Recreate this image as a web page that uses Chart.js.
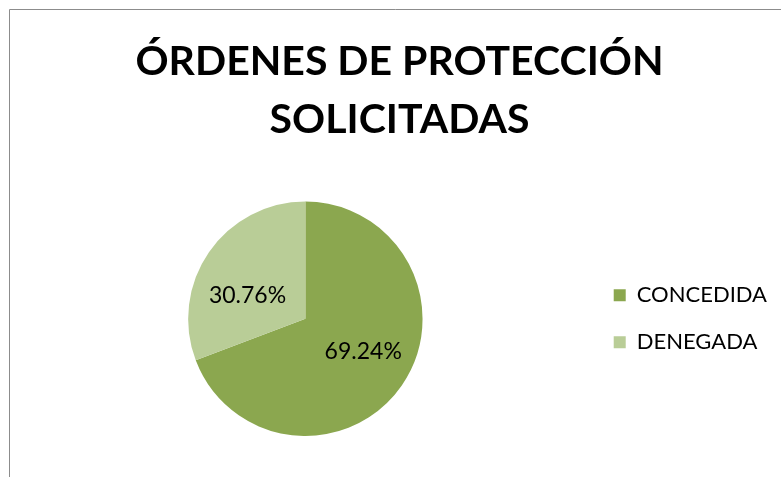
<!DOCTYPE html>
<html>
<head>
<meta charset="utf-8">
<script src="https://cdn.jsdelivr.net/npm/chart.js@4.4.1/dist/chart.umd.min.js"></script>
<style>
  html, body { margin:0; padding:0; background:#fff; }
  #wrap { width:781px; height:477px; position:relative; }
</style>
</head>
<body>
<div id="wrap"><canvas id="chPie" width="781" height="477"></canvas></div>
<script>
// chart data
var titleLines = ['ÓRDENES DE PROTECCIÓN', 'SOLICITADAS'];
var categories = ['CONCEDIDA', 'DENEGADA'];
var shares = [69.24, 30.76];
var sliceColors = ['#8BA74F', '#B9CD97'];

var FONT = 'Lato, Calibri, "Open Sans", sans-serif';

// thin grey frame, cut off at right and bottom like the original crop
var frame = {
  id: 'frame',
  beforeDraw: function (chart) {
    var c = chart.ctx;
    c.save();
    c.fillStyle = '#fff';
    c.fillRect(0, 0, chart.width, chart.height);
    c.strokeStyle = '#8c8c8c';
    c.lineWidth = 1;
    c.beginPath();
    c.moveTo(9.5, chart.height + 2);
    c.lineTo(9.5, 9.5);
    c.lineTo(chart.width + 2, 9.5);
    c.stroke();
    c.restore();
  }
};

// percentage labels inside the slices (excel-ish "best fit": flatter than the bisector)
var sliceLabels = {
  id: 'sliceLabels',
  afterDatasetsDraw: function (chart) {
    var c = chart.ctx;
    var meta = chart.getDatasetMeta(0);
    c.save();
    c.font = '23px ' + FONT;
    c.fillStyle = '#000';
    c.textAlign = 'center';
    c.textBaseline = 'middle';
    meta.data.forEach(function (arc, i) {
      var p = arc.getProps(['x', 'y', 'startAngle', 'endAngle', 'outerRadius']);
      var mid = (p.startAngle + p.endAngle) / 2;
      var r = p.outerRadius;
      c.fillText(shares[i].toFixed(2) + '%', p.x + Math.cos(mid) * r * 0.6, p.y + Math.sin(mid) * r * 0.42 + 5);
    });
    c.restore();
  }
};

new Chart(document.getElementById('chPie').getContext('2d'), {
  type: 'pie',
  data: {
    labels: categories,
    datasets: [{ data: shares, backgroundColor: sliceColors, borderWidth: 0, hoverOffset: 0 }]
  },
  options: {
    responsive: false,
    animation: false,
    layout: { padding: { left: 22, right: 4, top: 0, bottom: 41 } },
    plugins: {
      title: {
        display: true,
        text: titleLines,
        color: '#000',
        font: { family: FONT, size: 41, weight: 'bold', lineHeight: 1.41 },
        padding: { top: 33, bottom: 53 }
      },
      legend: {
        position: 'right',
        fullSize: false,
        labels: { color: '#000', font: { family: FONT, size: 22 }, boxWidth: 12, boxHeight: 12, padding: 25 }
      },
      tooltip: { enabled: false }
    }
  },
  plugins: [frame, sliceLabels]
});
</script>
</body>
</html>
